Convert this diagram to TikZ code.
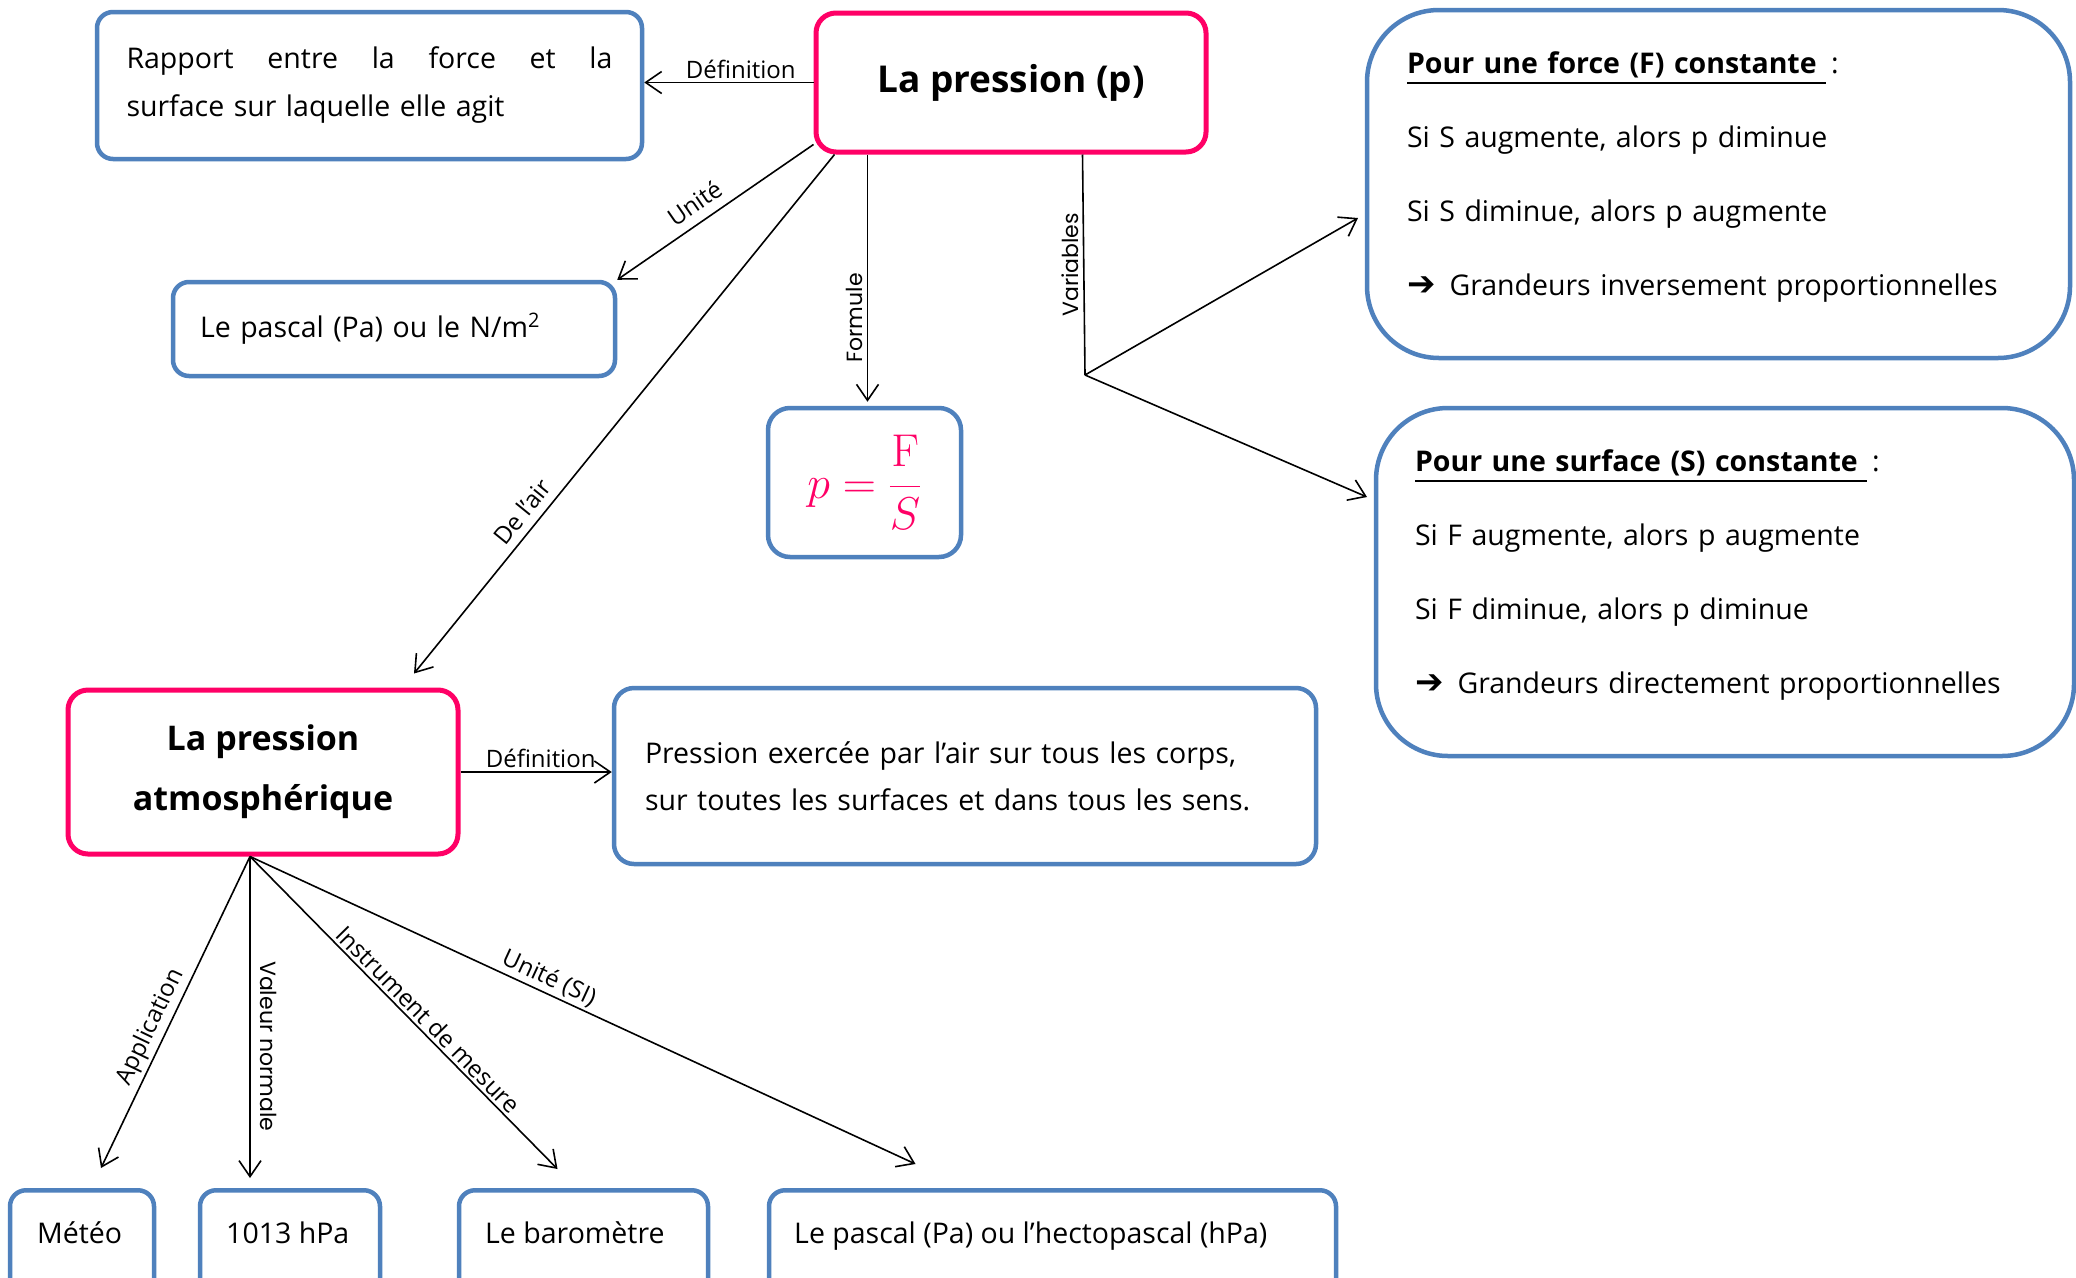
\RequirePackage{fix-cm}
\documentclass[tikz,border=0pt]{standalone}
\usepackage[no-math]{fontspec}
\setmainfont{Open Sans}
\newfontfamily\dejavu{DejaVu Sans}
\newfontfamily\gothic{Poppins}
\usetikzlibrary{arrows.meta}
\definecolor{bbl}{HTML}{4F81BD}
\definecolor{pnk}{HTML}{FF0066}
\tikzset{
 bbox/.style={draw=bbl, line width=4.5pt, rounded corners=16pt, inner sep=0pt},
 pbox/.style={draw=pnk, line width=5pt, rounded corners=20pt, inner sep=0pt},
 conn/.style={line width=1.6pt, -{Straight Barb[length=16pt,width=22pt,line width=1.6pt]}},
 plainline/.style={line width=1.6pt},
 lbl/.style={font=\fontsize{24}{28}\selectfont, inner sep=3pt},
 glbl/.style={font=\gothic\fontsize{22}{26}\selectfont, inner sep=4pt},
 body/.style={font=\fontsize{28.5}{36}\selectfont},
 btext/.style={font=\fontsize{28.5}{36}\selectfont, anchor=base west, inner sep=0pt},
}
\newcommand{\bigarrow}{{\dejavu\bfseries\fontsize{34}{36}\selectfont ➔}}
\newcommand{\thickul}[1]{\leavevmode\vtop{\hbox{#1}\kern4pt\hrule height 2pt}}
\begin{document}
\begin{tikzpicture}[x=1pt,y=-1pt]
\clip (0,0) rectangle (2076,1277);
\fill[white] (0,0) rectangle (2076,1277);

% top row
\node[bbox, minimum width=545pt, minimum height=147pt, text width=486pt, align=left, font=\fontsize{28.5}{48}\selectfont] (def1) at (369.5,85.5)
 {\hbox to 486pt{Rapport\hfill entre\hfill la\hfill force\hfill et\hfill la}\\surface sur laquelle elle agit};
\node[pbox, minimum width=390pt, minimum height=139pt, font=\bfseries\fontsize{37}{44}\selectfont] (lp) at (1011,82.5) {La pression (p)};
\node[bbox, minimum width=442pt, minimum height=94pt, text width=388pt, align=left, body] (unit) at (394,329) {Le pascal (Pa) ou le N/m\textsuperscript{2}};
\node[bbox, rounded corners=22pt, minimum width=193pt, minimum height=149pt, text=pnk, font=\fontsize{46}{50}\selectfont] (form) at (864.5,482.5) {$\displaystyle p=\frac{\mathrm{F}}{S}$};

% right boxes
\node[bbox, rounded corners=72pt, minimum width=703pt, minimum height=348pt, text width=623pt, align=left, font=\fontsize{28.5}{74}\selectfont] (f1) at (1718.5,184)
 {\thickul{\bfseries Pour une force (F) constante\ }\,:\\
  Si S augmente, alors p diminue\\
  Si S diminue, alors p augmente\\
  \bigarrow\hspace{14pt}Grandeurs inversement proportionnelles\rule[-20pt]{0pt}{0pt}};
\node[bbox, rounded corners=72pt, minimum width=698pt, minimum height=348pt, text width=620pt, align=left, font=\fontsize{28.5}{74}\selectfont] (f2) at (1725,582)
 {\thickul{\bfseries Pour une surface (S) constante\ }\,:\\
  Si F augmente, alors p augmente\\
  Si F diminue, alors p diminue\\
  \bigarrow\hspace{14pt}Grandeurs directement proportionnelles\rule[-20pt]{0pt}{0pt}};

% middle row
\node[pbox, minimum width=390pt, minimum height=164pt, align=center, font=\bfseries\fontsize{34}{60}\selectfont] (atm) at (263,772) {La pression\\atmosphérique};
\node[bbox, rounded corners=20pt, minimum width=702pt, minimum height=176pt, text width=640pt, align=left, font=\fontsize{28.5}{47}\selectfont] (def2) at (965,776)
 {Pression exercée par l’air sur tous les corps,\\sur toutes les surfaces et dans tous les sens.};

% bottom row
\node[bbox, minimum width=144pt, minimum height=140pt, anchor=north] (meteo) at (82,1188) {};
\node[bbox, minimum width=180pt, minimum height=140pt, anchor=north] (val) at (290,1188) {};
\node[bbox, minimum width=249pt, minimum height=140pt, anchor=north] (baro) at (583.5,1188) {};
\node[bbox, minimum width=567pt, minimum height=140pt, anchor=north] (hpa) at (1052.5,1188) {};
\node[btext] (meteot) at (37,1243) {Météo};
\node[btext] (valt) at (226,1243) {1013 hPa};
\node[btext] (barot) at (485,1243) {Le baromètre};
\node[btext] (hpat) at (794,1243) {Le pascal (Pa) ou l’hectopascal (hPa)};

% connectors from La pression
\draw[conn] (lp.west) -- (lp.west -| def1.east) node[pos=0.43, above, lbl] {Définition};
\draw[conn] ([yshift=10pt]lp.south west) -- (unit.north east) node[pos=0.55, sloped, above=6pt, lbl] {Unité};
\draw[conn] ([xshift=21pt]lp.south west) -- ([xshift=151pt,yshift=14pt]atm.north) node[pos=0.71, sloped, above=5pt, lbl] {De l’air};
\draw[conn, shorten >=4pt] ([xshift=54pt]lp.south west) -- ([xshift=54pt]lp.south west |- form.north) node[pos=0.65, rotate=90, above, glbl] {Formule};
\coordinate (vj) at (1085,375);
\coordinate (t1) at (1358,218);
\coordinate (t2) at (1367,497);
\draw[plainline] ([xshift=269pt]lp.south west) -- (vj) node[pos=0.5, rotate=90, above, glbl] {Variables};
\draw[conn] (vj) -- (t1);
\draw[conn] (vj) -- (t2);

% connectors from atmospheric pressure
\draw[conn] (atm.east) -- (atm.east -| def2.west) node[pos=0.53, above, lbl] {Définition};
\coordinate (as) at ([xshift=-13pt]atm.south);
\draw[conn] (as) -- ([xshift=19pt,yshift=20pt]meteo.north) node[pos=0.57, sloped, above, lbl] {Application};
\draw[conn] (as) -- ([xshift=-40pt,yshift=10pt]val.north) node[pos=0.59, rotate=-90, above=5pt, glbl] {Valeur normale};
\draw[conn] (as) -- ([xshift=-26pt,yshift=19pt]baro.north) node[pos=0.55, sloped, above, lbl] {Instrument de mesure};
\draw[conn] (as) -- ([xshift=-137pt,yshift=24pt]hpa.north) node[pos=0.44, sloped, above, lbl] {Unité (SI)};
\end{tikzpicture}
\end{document}
